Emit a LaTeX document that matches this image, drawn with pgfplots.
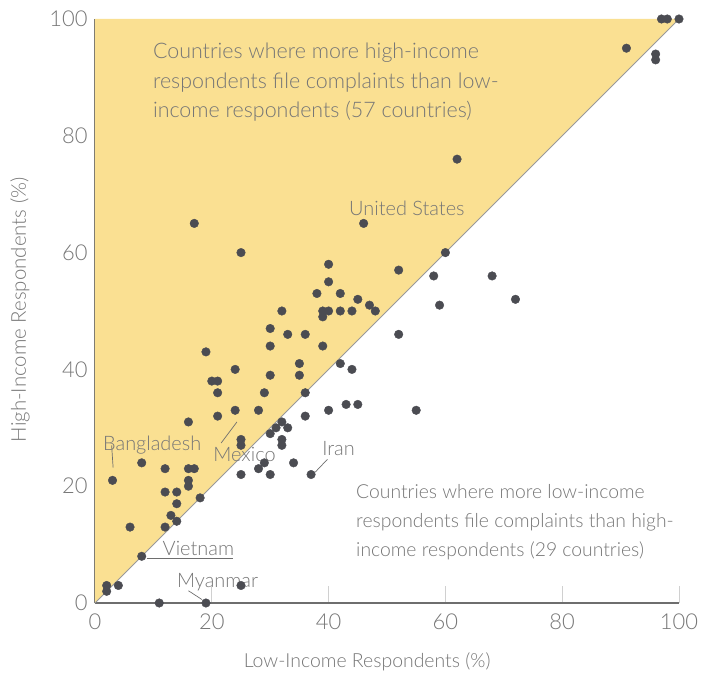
\documentclass[border=0pt]{standalone}
\usepackage{fontspec}
\setmainfont{Lato Light}
\usepackage{pgfplots}
\pgfplotsset{compat=1.18}
\usepackage{pgfplotstable}
\definecolor{fillyellow}{RGB}{250,224,146}
\definecolor{txtgray}{RGB}{118,118,118}
\definecolor{axgray}{RGB}{110,110,110}
\definecolor{tickgray}{RGB}{208,208,208}
\definecolor{dotcol}{RGB}{75,76,82}
\pgfplotstableread{
x y
24 33
28 33
21 32
16 31
25 28
25 27
30 29
31 30
32 31
33 30
32 28
32 27
8 24
12 23
16 23
17 23
16 21
16 20
25 22
28 23
29 24
30 22
3 21
12 19
14 19
14 17
18 18
13 15
14 14
12 13
6 13
8 8
2 3
2 2
4 3
11 0
19 0
25 3
17 65
46 65
25 60
40 58
40 55
38 53
42 53
45 52
47 51
32 50
39 50
40 50
39 49
42 50
44 50
30 47
33 46
36 46
30 44
39 44
19 43
35 41
42 41
44 40
24 40
30 39
35 39
20 38
21 38
21 36
29 36
36 36
36 32
40 33
43 34
45 34
52 57
58 56
59 51
52 46
48 50
55 33
34 24
37 22
62 76
60 60
68 56
72 52
97 100
98 100
100 100
91 95
96 94
96 93
}\countries
\begin{document}
\begin{tikzpicture}
\path[use as bounding box] (-95bp,-72bp) rectangle (622bp,603bp);
\begin{axis}[
  at={(0,0)}, anchor=south west,
  width=584bp, height=584bp, scale only axis,
  xmin=0, xmax=100, ymin=0, ymax=100,
  clip=false,
  axis x line*=bottom, axis y line*=left,
  axis line style={draw=axgray, line width=1.3pt},
  xtick={0,20,...,100}, ytick={0,20,...,100},
  tick align=inside, major tick length=17bp,
  tick style={draw=tickgray, line width=0.8pt},
  /pgf/number format/assume math mode=true,
  ticklabel style={font=\fontsize{22}{26}\selectfont, text=txtgray},
  xticklabel style={yshift=-7bp},
  yticklabel style={xshift=-4bp},
  xlabel={Low-Income Respondents (\%)},
  ylabel={High-Income Respondents (\%)},
  label style={font=\fontsize{19.5}{23}\selectfont, text=txtgray},
  xlabel style={at={(axis description cs:0.466,0)}, yshift=-59bp, anchor=center},
  ylabel style={at={(axis description cs:-0.1284,0.502)}, anchor=center, font=\fontsize{20.5}{24}\selectfont},
]
\addplot[fill=fillyellow, draw=none] coordinates {(0,0) (0,100) (100,100) (0,0)};
\addplot[draw=gray!80, line width=0.8pt] coordinates {(0,0) (100,100)};
\addplot[only marks, mark=*, mark size=4.3bp, mark options={fill=dotcol, draw=dotcol}] table[x=x, y=y] {\countries};
% leader lines
\addplot[draw=axgray, line width=0.7pt] coordinates {(2.85,27.0) (3.1,23.2)};
\addplot[draw=axgray, line width=0.7pt] coordinates {(24.3,31.0) (21.6,27.4)};
\addplot[draw=axgray, line width=0.7pt] coordinates {(39.8,24.6) (37.7,22.4)};
\addplot[draw=axgray, line width=0.7pt] coordinates {(8.85,7.7) (23.7,7.7)};
\addplot[draw=axgray, line width=0.7pt] coordinates {(16,2.1) (18.3,0.6)};
% labels
\node[anchor=center, text=txtgray, font=\fontsize{20}{24}\selectfont] at (axis cs:53.4,67.6) {United States};
\node[anchor=center, text=txtgray, font=\fontsize{20}{24}\selectfont] at (axis cs:9.8,27.0) {Bangladesh};
\node[anchor=center, text=txtgray, font=\fontsize{20}{24}\selectfont] at (axis cs:25.6,25.5) {Mexico};
\node[anchor=center, text=txtgray, font=\fontsize{20}{24}\selectfont] at (axis cs:41.7,26.5) {Iran};
\node[anchor=center, text=txtgray, font=\fontsize{20}{24}\selectfont] at (axis cs:17.7,9.4) {Vietnam};
\node[anchor=center, text=txtgray, font=\fontsize{20}{24}\selectfont] at (axis cs:21.0,3.6) {Myanmar};
% annotations
\node[anchor=north west, align=left, inner sep=0pt, text=txtgray, font=\fontsize{21.5}{29.5}\selectfont] at (axis cs:9.9,95.9)
  {Countries where more high-income\\respondents file complaints than low-\\income respondents (57 countries)};
\node[anchor=north west, align=left, inner sep=0pt, text=txtgray, font=\fontsize{19.4}{29}\selectfont] at (axis cs:44.7,20.3)
  {Countries where more low-income\\respondents file complaints than high-\\income respondents (29 countries)};
\end{axis}
\end{tikzpicture}
\end{document}
